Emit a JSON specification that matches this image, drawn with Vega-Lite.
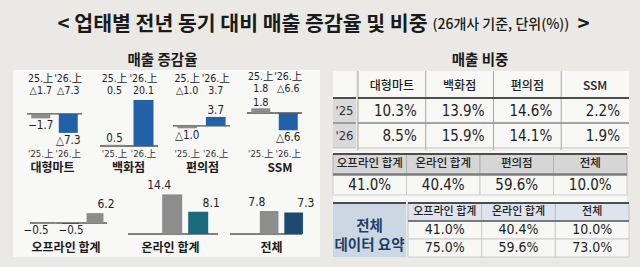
{
  "$schema": "https://vega.github.io/schema/vega-lite/v6.json",
  "background": "#ebe9e5",
  "padding": {"left": 13, "top": 0, "right": 14, "bottom": 10},
  "spacing": 0,
  "config": {
    "view": {"stroke": null, "fill": "#f8f8f7"},
    "font": "Noto Sans CJK KR",
    "concat": {"spacing": 0},
    "text": {"font": "'Liberation Sans Narrow', 'DejaVu Sans Condensed', Roboto, 'DejaVu Sans', 'Noto Sans CJK KR', sans-serif", "color": "#1e1e1e"},
    "axis": {"labelFont": "'Liberation Sans Narrow', 'DejaVu Sans Condensed', Roboto, 'DejaVu Sans', 'Noto Sans CJK KR', sans-serif", "titleFont": "Noto Sans CJK KR"}
  },
  "datasets": {
    "growth": [
      {"chart": "대형마트", "head": "'25.上|△1.7", "series": "prev", "value": -1.7, "label": "−1.7"},
      {"chart": "대형마트", "head": "'26.上|△7.3", "series": "cur", "value": -7.3, "label": "△7.3"},
      {"chart": "백화점", "head": "'25.上|0.5", "series": "prev", "value": 0.5, "label": "0.5"},
      {"chart": "백화점", "head": "'26.上|20.1", "series": "cur", "value": 20.1, "label": ""},
      {"chart": "편의점", "head": "'25.上|△1.0", "series": "prev", "value": -1.0, "label": "△1.0"},
      {"chart": "편의점", "head": "'26.上|3.7", "series": "cur", "value": 3.7, "label": "3.7"},
      {"chart": "SSM", "head": "'25.上|1.8", "series": "prev", "value": 1.8, "label": "1.8"},
      {"chart": "SSM", "head": "'26.上|△6.6", "series": "cur", "value": -6.6, "label": "△6.6"},
      {"chart": "오프라인 합계", "head": "1", "series": "prev", "value": -0.5, "label": "−0.5"},
      {"chart": "오프라인 합계", "head": "2", "series": "cur2", "value": -0.5, "label": "−0.5"},
      {"chart": "오프라인 합계", "head": "3", "series": "prev", "value": 6.2, "label": "6.2"},
      {"chart": "온라인 합계", "head": "1", "series": "prev", "value": 14.4, "label": "14.4"},
      {"chart": "온라인 합계", "head": "2", "series": "online", "value": 8.1, "label": "8.1"},
      {"chart": "전체", "head": "1", "series": "prev", "value": 7.8, "label": "7.8"},
      {"chart": "전체", "head": "2", "series": "total", "value": 7.3, "label": "7.3"}
    ],
    "share": [
      {"store": "대형마트", "year": "'25", "share": 0.103},
      {"store": "백화점", "year": "'25", "share": 0.139},
      {"store": "편의점", "year": "'25", "share": 0.146},
      {"store": "SSM", "year": "'25", "share": 0.022},
      {"store": "대형마트", "year": "'26", "share": 0.085},
      {"store": "백화점", "year": "'26", "share": 0.159},
      {"store": "편의점", "year": "'26", "share": 0.141},
      {"store": "SSM", "year": "'26", "share": 0.019}
    ],
    "groups": [
      {"group": "오프라인 합계", "share": 0.41},
      {"group": "온라인 합계", "share": 0.404},
      {"group": "편의점", "share": 0.596},
      {"group": "전체", "share": 0.1}
    ],
    "summary": [
      {"group": "오프라인 합계", "row": "first", "share": 0.41},
      {"group": "온라인 합계", "row": "first", "share": 0.404},
      {"group": "전체", "row": "first", "share": 0.1},
      {"group": "오프라인 합계", "row": "second", "share": 0.75},
      {"group": "온라인 합계", "row": "second", "share": 0.596},
      {"group": "전체", "row": "second", "share": 0.73}
    ]
  },
  "vconcat": [
    {
      "width": 613,
      "height": 45,
      "view": {"fill": "#ebe9e5", "stroke": null},
      "data": {"values": [{"main": "< 업태별 전년 동기 대비 매출 증감율 및 비중", "note": "(26개사 기준, 단위(%))", "end": ">"}]},
      "layer": [
        {"mark": {"type": "text", "align": "right", "baseline": "alphabetic", "dx": 108, "dy": 8, "font": "Noto Sans CJK KR", "fontSize": 20.5, "fontWeight": "bold", "color": "#1a1a1a"}, "encoding": {"text": {"field": "main"}}},
        {"mark": {"type": "text", "align": "left", "baseline": "alphabetic", "dx": 113, "dy": 6.5, "font": "Noto Sans CJK KR", "fontSize": 14, "fontWeight": 500, "color": "#1a1a1a"}, "encoding": {"text": {"field": "note"}}},
        {"mark": {"type": "text", "align": "left", "baseline": "alphabetic", "dx": 258, "dy": 8, "font": "Noto Sans CJK KR", "fontSize": 20.5, "fontWeight": "bold", "color": "#1a1a1a"}, "encoding": {"text": {"field": "end"}}}
      ]
    },
    {
      "hconcat": [
        {
          "vconcat": [
            {
              "width": 307, "height": 25,
              "data": {"values": [{"t": "매출 증감율"}]},
              "mark": {"type": "text", "font": "Noto Sans CJK KR", "fontSize": 14.5, "fontWeight": "bold", "color": "#1a1a1a", "dx": -4, "dy": 3},
              "encoding": {"text": {"field": "t"}}
            },
            {
              "hconcat": [
                {
                  "width": 78, "height": 105,
                  "data": {"name": "growth"},
                  "transform": [{"filter": "datum.chart === '대형마트'"}],
                  "layer": [
                    {"mark": {"type": "rect", "fill": "transparent", "stroke": "#4f4f4f", "strokeWidth": 1.4},
                     "encoding": {
                       "x": {"field": "head", "type": "nominal", "sort": null, "scale": {"paddingInner": 0, "paddingOuter": 0.418, "align": 0.609},
                             "axis": {"orient": "top", "title": null, "labelExpr": "[replace(split(datum.label, '|')[0], \"'25\", '25'), split(datum.label, '|')[1]]", "labelAngle": 0, "labelFontSize": 10.5, "labelLineHeight": 12.5, "labelColor": "#222", "labelPadding": 0, "ticks": false, "tickSize": 0, "domain": false, "grid": false, "offset": -13, "labelOverlap": false}},
                       "y": {"datum": 0, "type": "quantitative", "scale": {"domain": [-23.5, 16.9], "nice": false, "zero": false}, "axis": null},
                       "y2": {"datum": 0}}},
                    {"mark": {"type": "bar", "width": {"band": 0.69}},
                     "encoding": {
                       "x": {"field": "head", "type": "nominal", "sort": null, "scale": {"paddingInner": 0, "paddingOuter": 0.418, "align": 0.609},
                             "axis": {"orient": "bottom", "title": "대형마트", "labelExpr": "split(datum.label, '|')[0]", "labelAngle": 0, "labelFontSize": 9.5, "labelColor": "#333", "labelPadding": 1, "ticks": false, "tickSize": 0, "domain": false, "grid": false, "offset": -28, "labelOverlap": false, "titleFontSize": 12, "titleFontWeight": "bold", "titleColor": "#1a1a1a", "titlePadding": 5}},
                       "y": {"field": "value", "type": "quantitative", "stack": null, "scale": {"domain": [-23.5, 16.9], "nice": false, "zero": false}, "axis": null},
                       "color": {"field": "series", "type": "nominal", "scale": {"domain": ["prev", "cur", "cur2", "online", "total"], "range": ["#8d8d8d", "#2361a7", "#1f4d79", "#1b6b7c", "#1d4a6e"]}, "legend": null}}},
                    {"transform": [{"filter": "datum.value >= 0 && datum.label !== ''"}],
                     "mark": {"type": "text", "baseline": "bottom", "dy": -1, "fontSize": 11.5},
                     "encoding": {
                       "x": {"field": "head", "type": "nominal", "sort": null, "scale": {"paddingInner": 0, "paddingOuter": 0.418, "align": 0.609}, "axis": null},
                       "y": {"field": "value", "type": "quantitative", "scale": {"domain": [-23.5, 16.9], "nice": false, "zero": false}, "axis": null},
                       "text": {"field": "label"}}},
                    {"transform": [{"filter": "datum.value < 0"}],
                     "mark": {"type": "text", "baseline": "top", "dy": 2, "fontSize": 11.5},
                     "encoding": {
                       "x": {"field": "head", "type": "nominal", "sort": null, "scale": {"paddingInner": 0, "paddingOuter": 0.418, "align": 0.609}, "axis": null},
                       "y": {"field": "value", "type": "quantitative", "scale": {"domain": [-23.5, 16.9], "nice": false, "zero": false}, "axis": null},
                       "text": {"field": "label"}}}
                  ],
                  "resolve": {"axis": {"x": "independent"}}
                },
                {
                  "width": 74, "height": 105,
                  "data": {"name": "growth"},
                  "transform": [{"filter": "datum.chart === '백화점'"}],
                  "layer": [
                    {"mark": {"type": "rect", "fill": "transparent", "stroke": "#4f4f4f", "strokeWidth": 1.4},
                     "encoding": {
                       "x": {"field": "head", "type": "nominal", "sort": null, "scale": {"paddingInner": 0, "paddingOuter": 0.276, "align": 0.5625},
                             "axis": {"orient": "top", "title": null, "labelExpr": "[replace(split(datum.label, '|')[0], \"'25\", '25'), split(datum.label, '|')[1]]", "labelAngle": 0, "labelFontSize": 10.5, "labelLineHeight": 12.5, "labelColor": "#222", "labelPadding": 0, "ticks": false, "tickSize": 0, "domain": false, "grid": false, "offset": -13, "labelOverlap": false}},
                       "y": {"datum": 0, "type": "quantitative", "scale": {"domain": [-12.7, 33.2], "nice": false, "zero": false}, "axis": null},
                       "y2": {"datum": 0}}},
                    {"mark": {"type": "bar", "width": {"band": 0.69}},
                     "encoding": {
                       "x": {"field": "head", "type": "nominal", "sort": null, "scale": {"paddingInner": 0, "paddingOuter": 0.276, "align": 0.5625},
                             "axis": {"orient": "bottom", "title": "백화점", "labelExpr": "split(datum.label, '|')[0]", "labelAngle": 0, "labelFontSize": 9.5, "labelColor": "#333", "labelPadding": 1, "ticks": false, "tickSize": 0, "domain": false, "grid": false, "offset": -28, "labelOverlap": false, "titleFontSize": 12, "titleFontWeight": "bold", "titleColor": "#1a1a1a", "titlePadding": 5}},
                       "y": {"field": "value", "type": "quantitative", "stack": null, "scale": {"domain": [-12.7, 33.2], "nice": false, "zero": false}, "axis": null},
                       "color": {"field": "series", "type": "nominal", "scale": {"domain": ["prev", "cur", "cur2", "online", "total"], "range": ["#8d8d8d", "#2361a7", "#1f4d79", "#1b6b7c", "#1d4a6e"]}, "legend": null}}},
                    {"transform": [{"filter": "datum.value >= 0 && datum.label !== ''"}],
                     "mark": {"type": "text", "baseline": "bottom", "dy": -1, "fontSize": 11.5},
                     "encoding": {
                       "x": {"field": "head", "type": "nominal", "sort": null, "scale": {"paddingInner": 0, "paddingOuter": 0.276, "align": 0.5625}, "axis": null},
                       "y": {"field": "value", "type": "quantitative", "scale": {"domain": [-12.7, 33.2], "nice": false, "zero": false}, "axis": null},
                       "text": {"field": "label"}}},
                    {"transform": [{"filter": "datum.value < 0"}],
                     "mark": {"type": "text", "baseline": "top", "dy": 2, "fontSize": 11.5},
                     "encoding": {
                       "x": {"field": "head", "type": "nominal", "sort": null, "scale": {"paddingInner": 0, "paddingOuter": 0.276, "align": 0.5625}, "axis": null},
                       "y": {"field": "value", "type": "quantitative", "scale": {"domain": [-12.7, 33.2], "nice": false, "zero": false}, "axis": null},
                       "text": {"field": "label"}}}
                  ],
                  "resolve": {"axis": {"x": "independent"}}
                },
                {
                  "width": 74, "height": 105,
                  "data": {"name": "growth"},
                  "transform": [{"filter": "datum.chart === '편의점'"}],
                  "layer": [
                    {"mark": {"type": "rect", "fill": "transparent", "stroke": "#4f4f4f", "strokeWidth": 1.4},
                     "encoding": {
                       "x": {"field": "head", "type": "nominal", "sort": null, "scale": {"paddingInner": 0, "paddingOuter": 0.298, "align": 0.47},
                             "axis": {"orient": "top", "title": null, "labelExpr": "[replace(split(datum.label, '|')[0], \"'25\", '25'), split(datum.label, '|')[1]]", "labelAngle": 0, "labelFontSize": 10.5, "labelLineHeight": 12.5, "labelColor": "#222", "labelPadding": 0, "ticks": false, "tickSize": 0, "domain": false, "grid": false, "offset": -13, "labelOverlap": false}},
                       "y": {"datum": 0, "type": "quantitative", "scale": {"domain": [-20.2, 23.0], "nice": false, "zero": false}, "axis": null},
                       "y2": {"datum": 0}}},
                    {"mark": {"type": "bar", "width": {"band": 0.69}},
                     "encoding": {
                       "x": {"field": "head", "type": "nominal", "sort": null, "scale": {"paddingInner": 0, "paddingOuter": 0.298, "align": 0.47},
                             "axis": {"orient": "bottom", "title": "편의점", "labelExpr": "split(datum.label, '|')[0]", "labelAngle": 0, "labelFontSize": 9.5, "labelColor": "#333", "labelPadding": 1, "ticks": false, "tickSize": 0, "domain": false, "grid": false, "offset": -28, "labelOverlap": false, "titleFontSize": 12, "titleFontWeight": "bold", "titleColor": "#1a1a1a", "titlePadding": 5}},
                       "y": {"field": "value", "type": "quantitative", "stack": null, "scale": {"domain": [-20.2, 23.0], "nice": false, "zero": false}, "axis": null},
                       "color": {"field": "series", "type": "nominal", "scale": {"domain": ["prev", "cur", "cur2", "online", "total"], "range": ["#8d8d8d", "#2361a7", "#1f4d79", "#1b6b7c", "#1d4a6e"]}, "legend": null}}},
                    {"transform": [{"filter": "datum.value >= 0 && datum.label !== ''"}],
                     "mark": {"type": "text", "baseline": "bottom", "dy": -1, "fontSize": 11.5},
                     "encoding": {
                       "x": {"field": "head", "type": "nominal", "sort": null, "scale": {"paddingInner": 0, "paddingOuter": 0.298, "align": 0.47}, "axis": null},
                       "y": {"field": "value", "type": "quantitative", "scale": {"domain": [-20.2, 23.0], "nice": false, "zero": false}, "axis": null},
                       "text": {"field": "label"}}},
                    {"transform": [{"filter": "datum.value < 0"}],
                     "mark": {"type": "text", "baseline": "top", "dy": 2, "fontSize": 11.5},
                     "encoding": {
                       "x": {"field": "head", "type": "nominal", "sort": null, "scale": {"paddingInner": 0, "paddingOuter": 0.298, "align": 0.47}, "axis": null},
                       "y": {"field": "value", "type": "quantitative", "scale": {"domain": [-20.2, 23.0], "nice": false, "zero": false}, "axis": null},
                       "text": {"field": "label"}}}
                  ],
                  "resolve": {"axis": {"x": "independent"}}
                },
                {
                  "width": 81, "height": 105,
                  "data": {"name": "growth"},
                  "transform": [{"filter": "datum.chart === 'SSM'"}],
                  "layer": [
                    {"mark": {"type": "rect", "fill": "transparent", "stroke": "#4f4f4f", "strokeWidth": 1.4},
                     "encoding": {
                       "x": {"field": "head", "type": "nominal", "sort": null, "scale": {"paddingInner": 0, "paddingOuter": 0.473, "align": 0.308},
                             "axis": {"orient": "top", "title": null, "labelExpr": "[replace(split(datum.label, '|')[0], \"'25\", '25'), split(datum.label, '|')[1]]", "labelAngle": 0, "labelFontSize": 10.5, "labelLineHeight": 12.5, "labelColor": "#222", "labelPadding": 0, "ticks": false, "tickSize": 0, "domain": false, "grid": false, "offset": -11, "labelOverlap": false}},
                       "y": {"datum": 0, "type": "quantitative", "scale": {"domain": [-23.8, 16.5], "nice": false, "zero": false}, "axis": null},
                       "y2": {"datum": 0}}},
                    {"mark": {"type": "bar", "width": {"band": 0.69}},
                     "encoding": {
                       "x": {"field": "head", "type": "nominal", "sort": null, "scale": {"paddingInner": 0, "paddingOuter": 0.473, "align": 0.308},
                             "axis": {"orient": "bottom", "title": "SSM", "labelExpr": "split(datum.label, '|')[0]", "labelAngle": 0, "labelFontSize": 9.5, "labelColor": "#333", "labelPadding": 1, "ticks": false, "tickSize": 0, "domain": false, "grid": false, "offset": -28, "labelOverlap": false, "titleFontSize": 12, "titleFontWeight": "bold", "titleColor": "#1a1a1a", "titlePadding": 5}},
                       "y": {"field": "value", "type": "quantitative", "stack": null, "scale": {"domain": [-23.8, 16.5], "nice": false, "zero": false}, "axis": null},
                       "color": {"field": "series", "type": "nominal", "scale": {"domain": ["prev", "cur", "cur2", "online", "total"], "range": ["#8d8d8d", "#2361a7", "#1f4d79", "#1b6b7c", "#1d4a6e"]}, "legend": null}}},
                    {"transform": [{"filter": "datum.value >= 0 && datum.label !== ''"}],
                     "mark": {"type": "text", "baseline": "bottom", "dy": 0, "fontSize": 11},
                     "encoding": {
                       "x": {"field": "head", "type": "nominal", "sort": null, "scale": {"paddingInner": 0, "paddingOuter": 0.473, "align": 0.308}, "axis": null},
                       "y": {"field": "value", "type": "quantitative", "scale": {"domain": [-23.8, 16.5], "nice": false, "zero": false}, "axis": null},
                       "text": {"field": "label"}}},
                    {"transform": [{"filter": "datum.value < 0"}],
                     "mark": {"type": "text", "baseline": "top", "dy": 2, "fontSize": 11.5},
                     "encoding": {
                       "x": {"field": "head", "type": "nominal", "sort": null, "scale": {"paddingInner": 0, "paddingOuter": 0.473, "align": 0.308}, "axis": null},
                       "y": {"field": "value", "type": "quantitative", "scale": {"domain": [-23.8, 16.5], "nice": false, "zero": false}, "axis": null},
                       "text": {"field": "label"}}}
                  ],
                  "resolve": {"axis": {"x": "independent"}}
                }
              ],
              "spacing": 0
            },
            {
              "hconcat": [
                {
                  "width": 105, "height": 82,
                  "data": {"name": "growth"},
                  "transform": [{"filter": "datum.chart === '오프라인 합계'"}],
                  "layer": [
                    {"mark": {"type": "rect", "fill": "transparent", "stroke": "#5a5a5a", "strokeWidth": 1.3},
                     "encoding": {
                       "x": {"field": "head", "type": "nominal", "sort": null, "scale": {"domain": ["1", "2", "3"], "paddingInner": 0, "paddingOuter": 0.545, "align": 0.607},
                             "axis": {"orient": "bottom", "title": "오프라인 합계", "labels": false, "ticks": false, "tickSize": 0, "domain": false, "grid": false, "offset": -15, "titlePadding": 0, "titleFontSize": 12, "titleFontWeight": "bold", "titleColor": "#1a1a1a"}},
                       "y": {"datum": 0, "type": "quantitative", "scale": {"domain": [-21.25, 30], "nice": false, "zero": false}, "axis": null},
                       "y2": {"datum": 0}}},
                    {"mark": {"type": "bar", "width": {"band": 0.69}},
                     "encoding": {
                       "x": {"field": "head", "type": "nominal", "sort": null, "scale": {"domain": ["1", "2", "3"], "paddingInner": 0, "paddingOuter": 0.643, "align": 0.659}, "axis": null},
                       "y": {"field": "value", "type": "quantitative", "stack": null, "scale": {"domain": [-21.25, 30], "nice": false, "zero": false}, "axis": null},
                       "color": {"field": "series", "type": "nominal", "scale": {"domain": ["prev", "cur", "cur2", "online", "total"], "range": ["#8d8d8d", "#2361a7", "#1f4d79", "#1b6b7c", "#1d4a6e"]}, "legend": null}}},
                    {"transform": [{"filter": "datum.value >= 0"}],
                     "mark": {"type": "text", "baseline": "bottom", "dy": -2, "fontSize": 12},
                     "encoding": {
                       "x": {"field": "head", "type": "nominal", "sort": null, "scale": {"domain": ["1", "2", "3"], "paddingInner": 0, "paddingOuter": 0.643, "align": 0.659}, "axis": null},
                       "y": {"field": "value", "type": "quantitative", "scale": {"domain": [-21.25, 30], "nice": false, "zero": false}, "axis": null},
                       "text": {"field": "label"}}},
                    {"transform": [{"filter": "datum.value < 0"}],
                     "mark": {"type": "text", "baseline": "top", "dy": 1, "fontSize": 11.5},
                     "encoding": {
                       "x": {"field": "head", "type": "nominal", "sort": null, "scale": {"domain": ["1", "2", "3"], "paddingInner": 0, "paddingOuter": 0.643, "align": 0.659}, "axis": null},
                       "y": {"field": "value", "type": "quantitative", "scale": {"domain": [-21.25, 30], "nice": false, "zero": false}, "axis": null},
                       "text": {"field": "label"}}}
                  ],
                  "resolve": {"scale": {"x": "independent"}}
                },
                {
                  "width": 104, "height": 82,
                  "data": {"name": "growth"},
                  "transform": [{"filter": "datum.chart === '온라인 합계'"}],
                  "layer": [
                    {"mark": {"type": "rect", "fill": "transparent", "stroke": "#5a5a5a", "strokeWidth": 1.3},
                     "encoding": {
                       "x": {"field": "head", "type": "nominal", "sort": null, "scale": {"domain": ["1", "2"], "paddingInner": 0, "paddingOuter": 0.1556, "align": 0.714},
                             "axis": {"orient": "bottom", "title": "온라인 합계", "labels": false, "ticks": false, "tickSize": 0, "domain": false, "grid": false, "offset": -15, "titlePadding": 0, "titleFontSize": 12, "titleFontWeight": "bold", "titleColor": "#1a1a1a"}},
                       "y": {"datum": 0, "type": "quantitative", "scale": {"domain": [-8.36, 21.45], "nice": false, "zero": false}, "axis": null},
                       "y2": {"datum": 0}}},
                    {"mark": {"type": "bar", "width": {"band": 0.77}},
                     "encoding": {
                       "x": {"field": "head", "type": "nominal", "sort": null, "scale": {"domain": ["1", "2"], "paddingInner": 0, "paddingOuter": 1.311, "align": 0.792}, "axis": null},
                       "y": {"field": "value", "type": "quantitative", "stack": null, "scale": {"domain": [-8.36, 21.45], "nice": false, "zero": false}, "axis": null},
                       "color": {"field": "series", "type": "nominal", "scale": {"domain": ["prev", "cur", "cur2", "online", "total"], "range": ["#8d8d8d", "#2361a7", "#1f4d79", "#1b6b7c", "#1d4a6e"]}, "legend": null}}},
                    {"mark": {"type": "text", "baseline": "bottom", "dy": -2, "fontSize": 12},
                     "encoding": {
                       "x": {"field": "head", "type": "nominal", "sort": null, "scale": {"domain": ["1", "2"], "paddingInner": 0, "paddingOuter": 1.311, "align": 0.792}, "axis": null},
                       "y": {"field": "value", "type": "quantitative", "scale": {"domain": [-8.36, 21.45], "nice": false, "zero": false}, "axis": null},
                       "text": {"field": "label"}}}
                  ],
                  "resolve": {"scale": {"x": "independent"}}
                },
                {
                  "width": 98, "height": 82,
                  "data": {"name": "growth"},
                  "transform": [{"filter": "datum.chart === '전체'"}],
                  "layer": [
                    {"mark": {"type": "rect", "fill": "transparent", "stroke": "#5a5a5a", "strokeWidth": 1.3},
                     "encoding": {
                       "x": {"field": "head", "type": "nominal", "sort": null, "scale": {"domain": ["1", "2"], "paddingInner": 0, "paddingOuter": 0.361, "align": 0.308},
                             "axis": {"orient": "bottom", "title": "전체", "labels": false, "ticks": false, "tickSize": 0, "domain": false, "grid": false, "offset": -15, "titlePadding": 0, "titleFontSize": 12, "titleFontWeight": "bold", "titleColor": "#1a1a1a"}},
                       "y": {"datum": 0, "type": "quantitative", "scale": {"domain": [-7.8, 20], "nice": false, "zero": false}, "axis": null},
                       "y2": {"datum": 0}}},
                    {"mark": {"type": "bar", "width": {"band": 0.76}},
                     "encoding": {
                       "x": {"field": "head", "type": "nominal", "sort": null, "scale": {"domain": ["1", "2"], "paddingInner": 0, "paddingOuter": 1.178, "align": 0.712}, "axis": null},
                       "y": {"field": "value", "type": "quantitative", "stack": null, "scale": {"domain": [-7.8, 20], "nice": false, "zero": false}, "axis": null},
                       "color": {"field": "series", "type": "nominal", "scale": {"domain": ["prev", "cur", "cur2", "online", "total"], "range": ["#8d8d8d", "#2361a7", "#1f4d79", "#1b6b7c", "#1d4a6e"]}, "legend": null}}},
                    {"mark": {"type": "text", "baseline": "bottom", "dy": -2, "fontSize": 12},
                     "encoding": {
                       "x": {"field": "head", "type": "nominal", "sort": null, "scale": {"domain": ["1", "2"], "paddingInner": 0, "paddingOuter": 1.178, "align": 0.712}, "axis": null},
                       "y": {"field": "value", "type": "quantitative", "scale": {"domain": [-7.8, 20], "nice": false, "zero": false}, "axis": null},
                       "text": {"field": "label"}}}
                  ],
                  "resolve": {"scale": {"x": "independent"}}
                }
              ],
              "spacing": 0
            }
          ],
          "spacing": 0
        },
        {
          "vconcat": [
            {
              "width": 294, "height": 25,
              "data": {"values": [{"t": "매출 비중"}]},
              "mark": {"type": "text", "font": "Noto Sans CJK KR", "fontSize": 14.5, "fontWeight": "bold", "color": "#1a1a1a", "dy": 3},
              "encoding": {"text": {"field": "t"}}
            },
            {
              "hconcat": [
                {
                  "width": 23, "height": 79,
                  "data": {"name": "share"},
                  "transform": [{"filter": "datum.store === '대형마트'"}],
                  "layer": [
                    {"mark": {"type": "rect", "fill": "#d9d9d9"},
                     "encoding": {"y": {"field": "year", "type": "nominal", "sort": null, "scale": {"domain": ["head", "'25", "'26"], "paddingInner": 0, "paddingOuter": 0.08}, "axis": null}}},
                    {"mark": {"type": "text", "fontSize": 13, "color": "#333"},
                     "encoding": {"y": {"field": "year", "type": "nominal", "sort": null, "scale": {"domain": ["head", "'25", "'26"], "paddingInner": 0, "paddingOuter": 0.08}, "axis": null}, "text": {"field": "year"}}},
                    {"mark": {"type": "rule"},
                     "encoding": {"y": {"field": "year", "type": "nominal", "sort": null, "bandPosition": 0, "scale": {"domain": ["head", "'25", "'26"], "paddingInner": 0, "paddingOuter": 0.08}, "axis": null},
                                  "color": {"condition": {"test": "datum.year === \"'25\"", "value": "#4d4d4d"}, "value": "#8a8a8a"},
                                  "strokeWidth": {"condition": {"test": "datum.year === \"'25\"", "value": 2}, "value": 1.5}}},
                    {"transform": [{"filter": "datum.year === \"'26\""}],
                     "mark": {"type": "rule", "color": "#bdbdbd", "strokeWidth": 1},
                     "encoding": {"y": {"field": "year", "type": "nominal", "sort": null, "bandPosition": 1, "scale": {"domain": ["head", "'25", "'26"], "paddingInner": 0, "paddingOuter": 0.08}, "axis": null}}}
                  ]
                },
                {
                  "width": 271, "height": 79,
                  "data": {"name": "share"},
                  "layer": [
                    {"transform": [{"filter": "datum.year === \"'25\""}],
                     "mark": {"type": "rule", "color": "#a6a6a6", "strokeWidth": 1},
                     "encoding": {"x": {"field": "store", "type": "nominal", "sort": null, "bandPosition": 0, "scale": {"paddingInner": 0, "paddingOuter": 0}, "axis": null}}},
                    {"transform": [{"filter": "datum.year === \"'25\""}],
                     "mark": {"type": "text", "font": "Noto Sans CJK KR", "fontSize": 12, "fontWeight": 500, "color": "#222"},
                     "encoding": {
                       "x": {"field": "store", "type": "nominal", "sort": null, "scale": {"paddingInner": 0, "paddingOuter": 0}, "axis": null},
                       "y": {"datum": "head", "type": "nominal", "scale": {"domain": ["head", "'25", "'26"], "paddingInner": 0, "paddingOuter": 0.08}, "axis": null},
                       "text": {"field": "store"}}},
                    {"mark": {"type": "text", "align": "right", "dx": -9, "fontSize": 15, "color": "#1e1e1e"},
                     "encoding": {
                       "x": {"field": "store", "type": "nominal", "sort": null, "bandPosition": 1, "scale": {"paddingInner": 0, "paddingOuter": 0}, "axis": null},
                       "y": {"field": "year", "type": "nominal", "sort": null, "scale": {"domain": ["head", "'25", "'26"], "paddingInner": 0, "paddingOuter": 0.08}, "axis": null},
                       "text": {"field": "share", "type": "quantitative", "format": ".1%"}}},
                    {"transform": [{"filter": "datum.store === '대형마트'"}],
                     "mark": {"type": "rule"},
                     "encoding": {"y": {"field": "year", "type": "nominal", "sort": null, "bandPosition": 0, "scale": {"domain": ["head", "'25", "'26"], "paddingInner": 0, "paddingOuter": 0.08}, "axis": null},
                                  "color": {"condition": {"test": "datum.year === \"'25\"", "value": "#4d4d4d"}, "value": "#8a8a8a"},
                                  "strokeWidth": {"condition": {"test": "datum.year === \"'25\"", "value": 2}, "value": 1.5}}},
                    {"transform": [{"filter": "datum.store === '대형마트' && datum.year === \"'26\""}],
                     "mark": {"type": "rule", "color": "#bdbdbd", "strokeWidth": 1},
                     "encoding": {"y": {"field": "year", "type": "nominal", "sort": null, "bandPosition": 1, "scale": {"domain": ["head", "'25", "'26"], "paddingInner": 0, "paddingOuter": 0.08}, "axis": null}}}
                  ]
                }
              ],
              "spacing": 0
            },
            {
              "width": 294, "height": 51,
              "data": {"name": "groups"},
              "layer": [
                {"mark": {"type": "rect", "fill": "#d6d6d6", "stroke": "#b0b0b0", "strokeWidth": 1},
                 "encoding": {
                   "x": {"field": "group", "type": "nominal", "sort": null, "scale": {"paddingInner": 0, "paddingOuter": 0}, "axis": null},
                   "y": {"datum": "head", "type": "nominal", "scale": {"domain": ["head", "val"], "paddingInner": 0, "paddingOuter": 0.244, "align": 0.3}, "axis": null}}},
                {"mark": {"type": "rect", "fill": "#f7f7f5", "stroke": "#cccccc", "strokeWidth": 1},
                 "encoding": {
                   "x": {"field": "group", "type": "nominal", "sort": null, "scale": {"paddingInner": 0, "paddingOuter": 0}, "axis": null},
                   "y": {"datum": "val", "type": "nominal", "scale": {"domain": ["head", "val"], "paddingInner": 0, "paddingOuter": 0.244, "align": 0.3}, "axis": null}}},
                {"mark": {"type": "text", "font": "Noto Sans CJK KR", "fontSize": 11.5, "fontWeight": 500, "color": "#222"},
                 "encoding": {
                   "x": {"field": "group", "type": "nominal", "sort": null, "scale": {"paddingInner": 0, "paddingOuter": 0}, "axis": null},
                   "y": {"datum": "head", "type": "nominal", "scale": {"domain": ["head", "val"], "paddingInner": 0, "paddingOuter": 0.244, "align": 0.3}, "axis": null},
                   "text": {"field": "group"}}},
                {"mark": {"type": "text", "fontSize": 15, "color": "#1e1e1e"},
                 "encoding": {
                   "x": {"field": "group", "type": "nominal", "sort": null, "scale": {"paddingInner": 0, "paddingOuter": 0}, "axis": null},
                   "y": {"datum": "val", "type": "nominal", "scale": {"domain": ["head", "val"], "paddingInner": 0, "paddingOuter": 0.244, "align": 0.3}, "axis": null},
                   "text": {"field": "share", "type": "quantitative", "format": ".1%"}}},
                {"mark": {"type": "rule", "color": "#4d4d4d", "strokeWidth": 2},
                 "encoding": {"y": {"datum": "head", "type": "nominal", "bandPosition": 0, "scale": {"domain": ["head", "val"], "paddingInner": 0, "paddingOuter": 0.244, "align": 0.3}, "axis": null}}},
                {"mark": {"type": "rule", "color": "#7a7a7a", "strokeWidth": 1.5},
                 "encoding": {"y": {"datum": "head", "type": "nominal", "bandPosition": 1, "scale": {"domain": ["head", "val"], "paddingInner": 0, "paddingOuter": 0.244, "align": 0.3}, "axis": null}}}
              ]
            },
            {
              "hconcat": [
                {
                  "width": 73, "height": 54,
                  "data": {"values": [{"t": "전체 데이터 요약"}]},
                  "layer": [
                    {"mark": {"type": "rect", "fill": "#ccd7e4"}, "encoding": {}},
                    {"mark": {"type": "text", "text": ["전체", "데이터 요약"], "font": "Noto Sans CJK KR", "fontSize": 14.5, "fontWeight": "bold", "color": "#1f3e66", "lineHeight": 19, "dy": -3}, "encoding": {}},
                    {"mark": {"type": "rule", "color": "#4d4d4d", "strokeWidth": 2},
                     "encoding": {"y": {"datum": "head", "type": "nominal", "bandPosition": 0, "scale": {"domain": ["head", "first", "second"], "paddingInner": 0, "paddingOuter": 0}, "axis": null}}}
                  ]
                },
                {
                  "width": 221, "height": 54,
                  "data": {"name": "summary"},
                  "layer": [
                    {"transform": [{"filter": "datum.row === 'first'"}],
                     "mark": {"type": "rect", "fill": "#dde4ed", "stroke": "#b8c1cd", "strokeWidth": 1},
                     "encoding": {
                       "x": {"field": "group", "type": "nominal", "sort": null, "scale": {"paddingInner": 0, "paddingOuter": 0}, "axis": null},
                       "y": {"datum": "head", "type": "nominal", "scale": {"domain": ["head", "first", "second"], "paddingInner": 0, "paddingOuter": 0}, "axis": null}}},
                    {"mark": {"type": "rect", "fill": "#f7f7f5", "stroke": "#cccccc", "strokeWidth": 1},
                     "encoding": {
                       "x": {"field": "group", "type": "nominal", "sort": null, "scale": {"paddingInner": 0, "paddingOuter": 0}, "axis": null},
                       "y": {"field": "row", "type": "nominal", "sort": null, "scale": {"domain": ["head", "first", "second"], "paddingInner": 0, "paddingOuter": 0}, "axis": null}}},
                    {"transform": [{"filter": "datum.row === 'first'"}],
                     "mark": {"type": "text", "font": "Noto Sans CJK KR", "fontSize": 11, "fontWeight": 500, "color": "#222"},
                     "encoding": {
                       "x": {"field": "group", "type": "nominal", "sort": null, "scale": {"paddingInner": 0, "paddingOuter": 0}, "axis": null},
                       "y": {"datum": "head", "type": "nominal", "scale": {"domain": ["head", "first", "second"], "paddingInner": 0, "paddingOuter": 0}, "axis": null},
                       "text": {"field": "group"}}},
                    {"mark": {"type": "text", "fontSize": 14, "color": "#1e1e1e"},
                     "encoding": {
                       "x": {"field": "group", "type": "nominal", "sort": null, "scale": {"paddingInner": 0, "paddingOuter": 0}, "axis": null},
                       "y": {"field": "row", "type": "nominal", "sort": null, "scale": {"domain": ["head", "first", "second"], "paddingInner": 0, "paddingOuter": 0}, "axis": null},
                       "text": {"field": "share", "type": "quantitative", "format": ".1%"}}},
                    {"mark": {"type": "rule", "color": "#4d4d4d", "strokeWidth": 2},
                     "encoding": {"y": {"datum": "head", "type": "nominal", "bandPosition": 0, "scale": {"domain": ["head", "first", "second"], "paddingInner": 0, "paddingOuter": 0}, "axis": null}}},
                    {"mark": {"type": "rule", "color": "#7a7a7a", "strokeWidth": 1.5},
                     "encoding": {"y": {"datum": "head", "type": "nominal", "bandPosition": 1, "scale": {"domain": ["head", "first", "second"], "paddingInner": 0, "paddingOuter": 0}, "axis": null}}}
                  ]
                }
              ],
              "spacing": 0
            }
          ],
          "spacing": 0
        }
      ],
      "spacing": 12
    }
  ]
}
